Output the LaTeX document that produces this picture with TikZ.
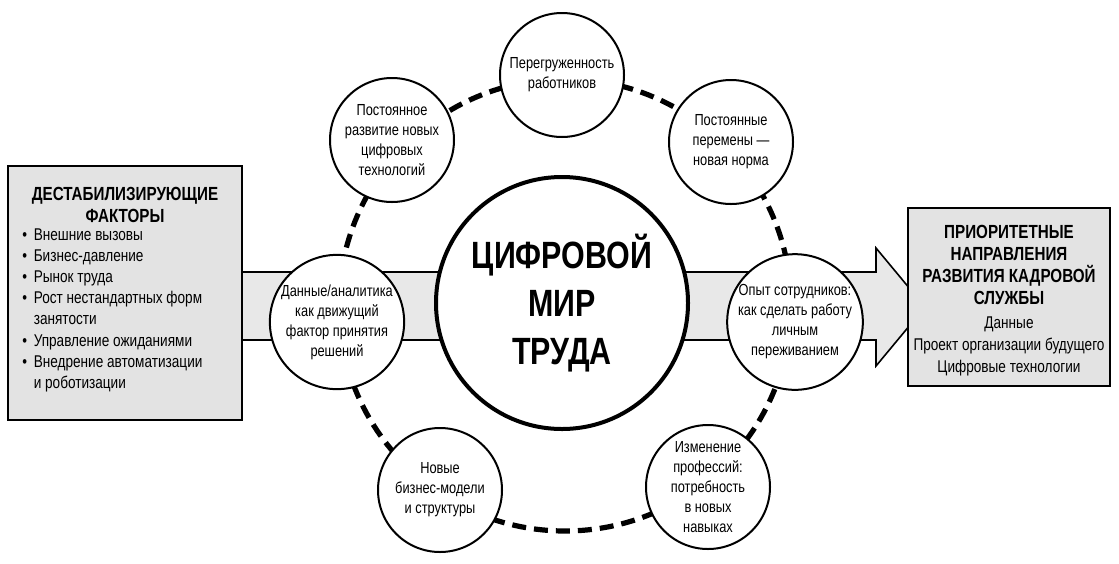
\documentclass[tikz,border=0pt]{standalone}
\usepackage{fontspec}
\setmainfont[FakeStretch=0.8]{Liberation Sans}
\usetikzlibrary{shapes.arrows}
\begin{document}
\begin{tikzpicture}[
  x=0.5pt, y=-0.5pt,
  factor/.style={circle, draw, line width=1pt, fill=white, minimum size=62pt, inner sep=0pt, align=center, font=\fontsize{8}{10}\selectfont},
  sidebox/.style={draw, line width=0.8pt, fill=gray!22, inner sep=0pt},
  ring/.style={line width=2.6pt, dash pattern=on 7pt off 4pt}
]
\useasboundingbox (0,0) rectangle (1119,563);

% Arrow band
\fill[gray!18, draw=black, line width=0.8pt] (240,272) -- (876,272) -- (876,248) -- (925,307) -- (876,366) -- (876,340) -- (240,340) -- cycle;

% Ring and center
\draw[ring] (565,305) circle (113pt);
\node[circle, draw, line width=2pt, fill=white, minimum size=126pt, align=center, font=\fontsize{19}{24}\selectfont\bfseries] (world) at (562,303) {ЦИФРОВОЙ\\МИР\\ТРУДА};

% Factor circles
\node[factor] (overload) at (562,75) {Перегруженность\\работников};
\node[factor] (tech) at (392,140) {Постоянное\\развитие новых\\цифровых\\технологий};
\node[factor] (change) at (731,142) {Постоянные\\перемены —\\новая норма};
\node[factor] (data) at (337,322) {Данные/аналитика\\как движущий\\фактор принятия\\решений};
\node[factor] (staff) at (795,322) {Опыт сотрудников:\\как сделать работу\\личным\\переживанием};
\node[factor] (models) at (440,490) {Новые\\бизнес-модели\\и структуры};
\node[factor] (jobs) at (708,487) {Изменение\\профессий:\\потребность\\в новых\\навыках};

% Side boxes
\node[sidebox, minimum width=117pt, minimum height=127pt] (left) at (125,293) {};
\node[font=\fontsize{9.5}{11}\selectfont\bfseries, align=center, anchor=north] (lefttitle) at (125,180) {ДЕСТАБИЛИЗИРУЮЩИЕ\\ФАКТОРЫ};
\node[font=\fontsize{8.5}{10.6}\selectfont, align=left, anchor=north west, inner sep=0pt] (leftlist) at (22,228) {%
• \,Внешние вызовы\\• \,Бизнес-давление\\• \,Рынок труда\\• \,Рост нестандартных форм\\\phantom{• \,}занятости\\• \,Управление ожиданиями\\• \,Внедрение автоматизации\\\phantom{• \,}и роботизации};

\node[sidebox, minimum width=101pt, minimum height=89pt] (right) at (1009,297) {};
\node[font=\fontsize{9.5}{11}\selectfont\bfseries, align=center, anchor=north] (righttitle) at (1009,218) {ПРИОРИТЕТНЫЕ\\НАПРАВЛЕНИЯ\\РАЗВИТИЯ КАДРОВОЙ\\СЛУЖБЫ};
\node[font=\fontsize{8.5}{11}\selectfont, align=center, anchor=north] (rightlist) at (1009,310) {Данные\\Проект организации будущего\\Цифровые технологии};
\end{tikzpicture}
\end{document}
